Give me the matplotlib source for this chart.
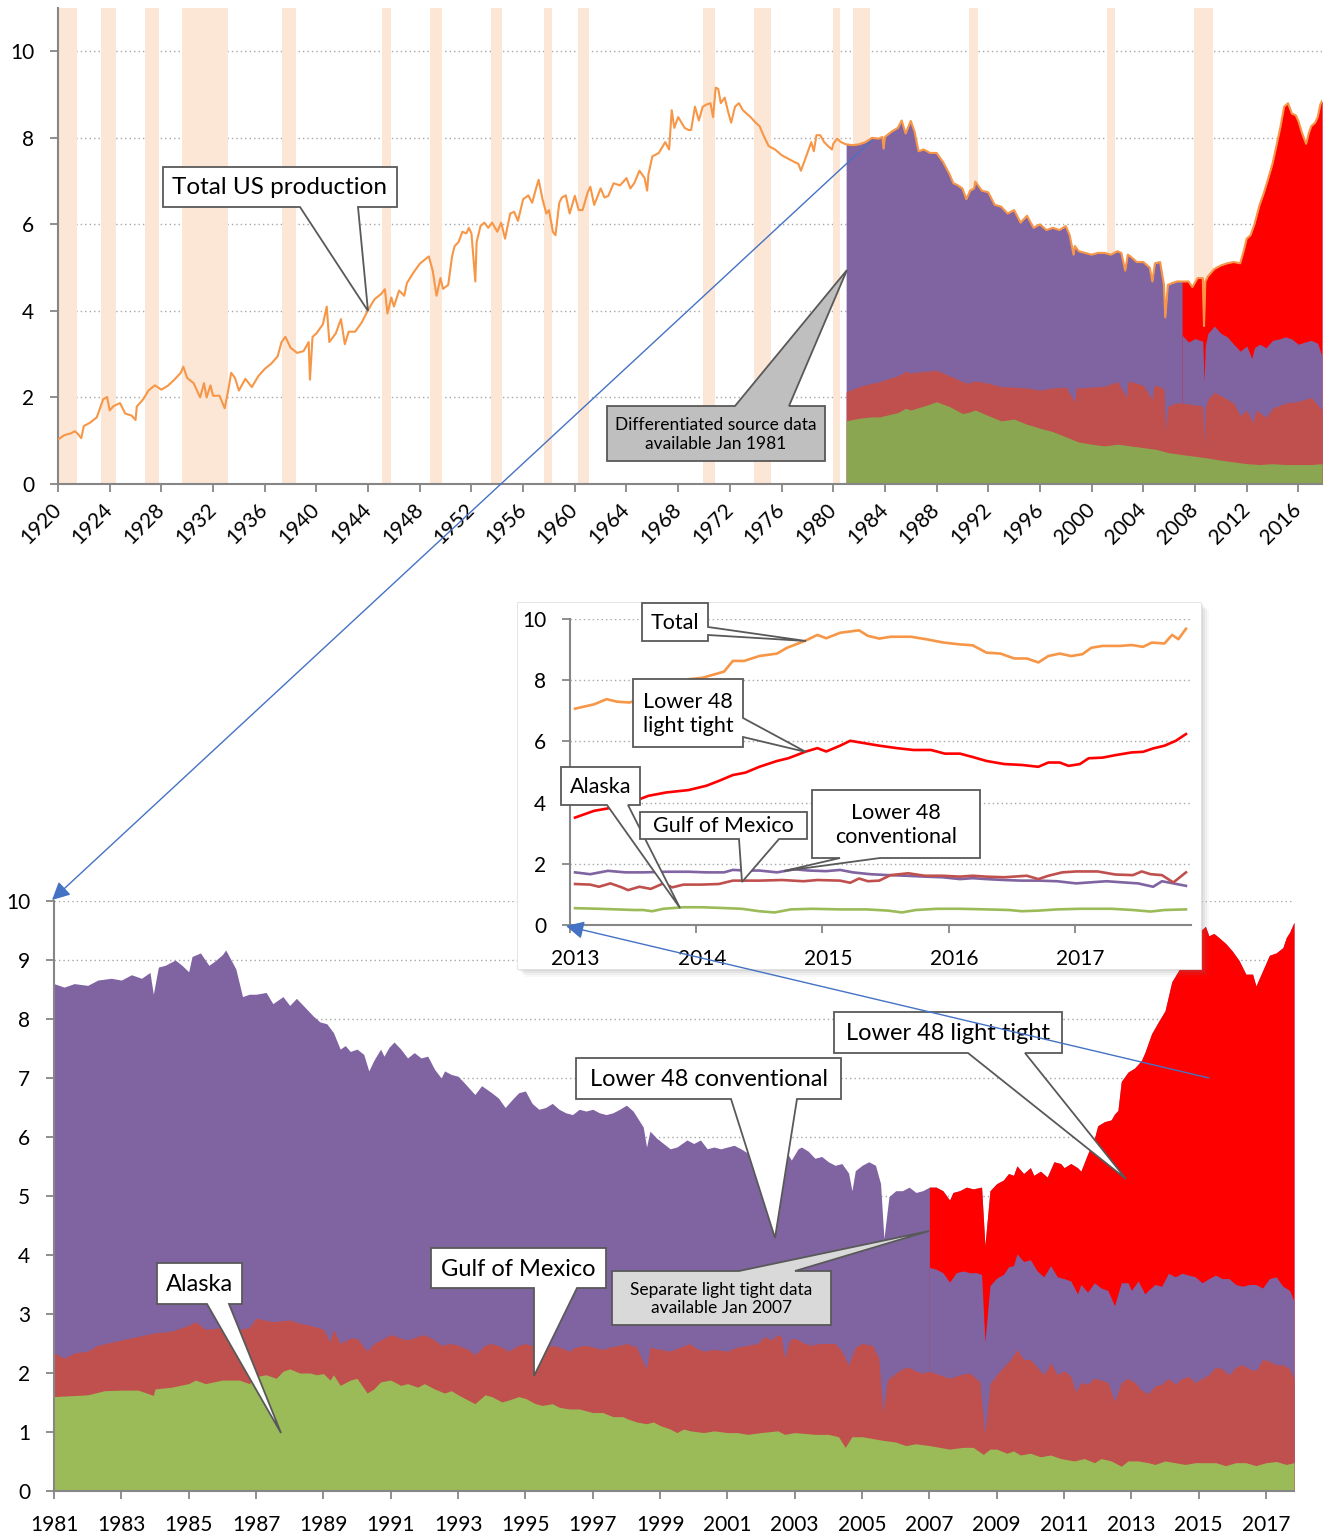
import numpy as np
import matplotlib
matplotlib.use('Agg')
import matplotlib.pyplot as plt
from matplotlib.patches import Polygon, Rectangle, FancyArrowPatch
import matplotlib.transforms as mtransforms

plt.rcParams['font.family'] = ['Lato', 'DejaVu Sans']

W, H = 1332, 1536

# ---------------- DATA ----------------
# NBER recessions (start, end) in decimal years
recession_start = [1920.0, 1923.33, 1926.75, 1929.58, 1937.33, 1945.08, 1948.83, 1953.5, 1957.58,
                   1960.25, 1969.92, 1973.83, 1980.0, 1981.5, 1990.5, 2001.17, 2007.92]
recession_end = [1921.5, 1924.5, 1927.83, 1933.17, 1938.42, 1945.75, 1949.75, 1954.33, 1958.25,
                 1961.08, 1970.83, 1975.17, 1980.5, 1982.83, 1991.17, 2001.83, 2009.42]

# Top chart: total US production (year, value)
top_total = [
    (1920.0, 1.03), (1920.5, 1.13), (1921.0, 1.17), (1921.3, 1.22), (1921.5, 1.17), (1921.8, 1.06),
    (1922.0, 1.34), (1922.5, 1.42), (1923.0, 1.54), (1923.5, 1.96), (1923.8, 2.01), (1924.0, 1.70),
    (1924.3, 1.80), (1924.8, 1.87), (1925.2, 1.63), (1925.7, 1.58), (1926.0, 1.48), (1926.1, 1.79),
    (1926.6, 1.96), (1927.0, 2.16), (1927.5, 2.28), (1928.0, 2.18), (1928.5, 2.27), (1929.0, 2.41),
    (1929.5, 2.57), (1929.7, 2.71), (1930.0, 2.45), (1930.5, 2.33), (1931.0, 2.00), (1931.3, 2.33),
    (1931.5, 2.00), (1931.8, 2.28), (1932.0, 2.04), (1932.5, 2.04), (1932.9, 1.75), (1933.2, 2.20),
    (1933.4, 2.57), (1933.7, 2.45), (1934.0, 2.16), (1934.5, 2.43), (1935.0, 2.24), (1935.5, 2.49),
    (1936.0, 2.66), (1936.5, 2.78), (1937.0, 2.95), (1937.3, 3.28), (1937.6, 3.40), (1938.0, 3.15),
    (1938.5, 3.03), (1939.0, 3.07), (1939.4, 3.28), (1939.5, 2.41), (1939.7, 3.40), (1940.0, 3.48),
    (1940.5, 3.69), (1940.8, 4.10), (1941.0, 3.28), (1941.5, 3.48), (1941.9, 3.81), (1942.2, 3.23),
    (1942.5, 3.52), (1943.0, 3.52), (1943.5, 3.73), (1944.0, 4.02), (1944.5, 4.27), (1945.0, 4.39),
    (1945.3, 4.50), (1945.5, 3.94), (1945.8, 4.31), (1946.0, 4.10), (1946.4, 4.47), (1946.8, 4.35),
    (1947.0, 4.64), (1947.5, 4.88), (1948.0, 5.09), (1948.7, 5.26), (1949.0, 4.93), (1949.3, 4.35),
    (1949.6, 4.76), (1949.8, 4.51), (1950.2, 4.60), (1950.5, 5.26), (1950.7, 5.50), (1951.0, 5.59),
    (1951.3, 5.83), (1951.6, 5.79), (1951.8, 5.92), (1952.0, 5.79), (1952.3, 4.68), (1952.4, 5.59),
    (1952.7, 5.96), (1953.0, 6.04), (1953.3, 5.92), (1953.6, 6.04), (1954.0, 5.83), (1954.3, 6.04),
    (1954.6, 5.67), (1955.0, 6.25), (1955.3, 6.29), (1955.6, 6.08), (1956.0, 6.58), (1956.4, 6.67),
    (1956.7, 6.50), (1957.0, 6.83), (1957.2, 7.03), (1957.5, 6.58), (1957.8, 6.25), (1958.0, 6.33),
    (1958.3, 5.83), (1958.5, 5.75), (1958.8, 6.50), (1959.0, 6.62), (1959.3, 6.67), (1959.6, 6.25),
    (1960.0, 6.66), (1960.3, 6.33), (1960.6, 6.33), (1961.0, 6.74), (1961.2, 6.87), (1961.5, 6.45),
    (1962.0, 6.83), (1962.3, 6.62), (1962.6, 6.66), (1963.0, 6.95), (1963.5, 6.90), (1964.0, 7.07),
    (1964.3, 6.83), (1964.6, 6.95), (1965.0, 7.24), (1965.4, 7.07), (1965.6, 6.78), (1965.7, 7.16),
    (1966.0, 7.57), (1966.5, 7.65), (1967.0, 7.90), (1967.3, 7.73), (1967.5, 8.64), (1967.7, 8.23),
    (1968.0, 8.48), (1968.5, 8.23), (1968.8, 8.18), (1969.0, 8.18), (1969.3, 8.72), (1969.6, 8.40),
    (1969.9, 8.72), (1970.2, 8.77), (1970.5, 8.80), (1970.7, 8.48), (1970.9, 9.16), (1971.1, 9.13),
    (1971.3, 8.80), (1971.6, 8.93), (1971.9, 8.56), (1972.1, 8.35), (1972.4, 8.72), (1972.7, 8.80),
    (1973.0, 8.64), (1973.3, 8.56), (1973.6, 8.48), (1974.0, 8.35), (1974.3, 8.27), (1974.6, 8.06),
    (1975.0, 7.81), (1975.5, 7.73), (1976.0, 7.60), (1976.5, 7.52), (1977.0, 7.44), (1977.3, 7.40),
    (1977.5, 7.24), (1977.8, 7.48), (1978.0, 7.65), (1978.3, 7.90), (1978.5, 7.69), (1978.7, 8.06),
    (1979.0, 8.06), (1979.3, 7.90), (1979.6, 7.81), (1979.9, 7.73), (1980.0, 7.86), (1980.3, 7.98),
    (1980.6, 7.90), (1980.9, 7.86), (1981.0, 7.85), (1981.5, 7.83), (1982.0, 7.85), (1982.5, 7.90),
    (1983.0, 8.00), (1983.5, 7.98), (1983.8, 8.02), (1983.9, 7.75), (1984.0, 8.02), (1984.5, 8.14),
    (1985.0, 8.23), (1985.3, 8.40), (1985.6, 8.10), (1986.0, 8.39), (1986.3, 8.14), (1986.6, 7.69),
    (1987.0, 7.73), (1987.5, 7.65), (1988.0, 7.65), (1988.5, 7.44), (1989.0, 7.16), (1989.3, 6.95),
    (1989.6, 6.91), (1990.0, 6.83), (1990.3, 6.58), (1990.6, 6.78), (1990.9, 6.83), (1991.0, 6.99),
    (1991.5, 6.78), (1992.0, 6.74), (1992.5, 6.45), (1993.0, 6.41), (1993.5, 6.25), (1994.0, 6.33),
    (1994.5, 6.04), (1995.0, 6.20), (1995.5, 5.92), (1996.0, 6.00), (1996.5, 5.87), (1997.0, 5.92),
    (1997.5, 5.87), (1998.0, 5.96), (1998.3, 5.75), (1998.6, 5.30), (1998.7, 5.50), (1999.0, 5.38),
    (1999.5, 5.34), (2000.0, 5.30), (2000.5, 5.34), (2001.0, 5.34), (2001.5, 5.30), (2002.0, 5.38),
    (2002.3, 5.34), (2002.6, 4.93), (2002.8, 5.30), (2003.0, 5.26), (2003.5, 5.13), (2004.0, 5.13),
    (2004.5, 5.00), (2004.7, 4.68), (2004.9, 5.10), (2005.3, 5.13), (2005.6, 4.60), (2005.7, 3.85),
    (2005.9, 4.60), (2006.2, 4.64), (2006.6, 4.68), (2007.0, 4.68), (2007.5, 4.68), (2007.8, 4.55),
    (2008.2, 4.76), (2008.6, 4.76), (2008.7, 3.65), (2008.8, 4.68), (2009.0, 4.80), (2009.5, 4.97),
    (2010.0, 5.05), (2010.5, 5.10), (2011.0, 5.13), (2011.5, 5.10), (2011.8, 5.42), (2012.0, 5.67),
    (2012.3, 5.75), (2012.6, 6.00), (2013.0, 6.45), (2013.3, 6.70), (2013.6, 6.99), (2014.0, 7.40),
    (2014.3, 7.81), (2014.6, 8.23), (2014.9, 8.72), (2015.2, 8.80), (2015.5, 8.56), (2015.8, 8.52),
    (2016.0, 8.39), (2016.3, 8.10), (2016.6, 7.86), (2016.8, 8.10), (2017.0, 8.27), (2017.3, 8.35),
    (2017.5, 8.48), (2017.7, 8.77), (2017.83, 8.85)]

# Top chart stacked layers (tops of cumulative layers)
top_alaska = [
    (1981.0, 1.46), (1982.0, 1.52), (1983.0, 1.55), (1983.6, 1.55), (1984.0, 1.58), (1985.0, 1.65),
    (1985.6, 1.75), (1986.0, 1.71), (1987.0, 1.80), (1988.0, 1.90), (1989.0, 1.79), (1990.0, 1.63),
    (1990.4, 1.65), (1991.0, 1.71), (1992.0, 1.58), (1993.0, 1.46), (1994.0, 1.50), (1995.0, 1.38),
    (1996.0, 1.29), (1997.0, 1.21), (1998.0, 1.09), (1999.0, 0.97), (2000.0, 0.92), (2001.0, 0.88),
    (2002.0, 0.92), (2003.0, 0.88), (2004.0, 0.84), (2005.0, 0.80), (2006.0, 0.72), (2007.0, 0.68),
    (2008.0, 0.64), (2009.0, 0.60), (2010.0, 0.55), (2011.0, 0.51), (2012.0, 0.47), (2013.0, 0.45),
    (2014.0, 0.47), (2015.0, 0.45), (2016.0, 0.45), (2017.0, 0.45), (2017.83, 0.47)]
top_alaska_gulf = [
    (1981.0, 2.13), (1982.0, 2.25), (1983.0, 2.33), (1983.6, 2.36), (1984.0, 2.41), (1985.0, 2.50),
    (1985.6, 2.60), (1986.0, 2.57), (1987.0, 2.60), (1988.0, 2.63), (1989.0, 2.50), (1990.0, 2.37),
    (1990.4, 2.33), (1991.0, 2.38), (1992.0, 2.33), (1993.0, 2.25), (1994.0, 2.24), (1995.0, 2.22),
    (1996.0, 2.17), (1997.0, 2.22), (1998.0, 2.24), (1998.7, 1.90), (1998.8, 2.22), (1999.0, 2.22),
    (2000.0, 2.24), (2001.0, 2.26), (2002.0, 2.37), (2002.7, 2.00), (2002.8, 2.35), (2003.0, 2.37),
    (2004.0, 2.28), (2004.7, 1.95), (2004.8, 2.25), (2005.0, 2.28), (2005.6, 2.20), (2005.7, 1.21),
    (2005.9, 1.80), (2006.5, 1.87), (2007.0, 1.87), (2008.0, 1.83), (2008.6, 1.80), (2008.7, 0.88),
    (2008.8, 1.75), (2009.0, 1.96), (2009.5, 2.12), (2010.0, 2.04), (2011.0, 1.87), (2011.5, 1.58),
    (2012.0, 1.71), (2012.5, 1.42), (2012.7, 1.70), (2013.0, 1.65), (2013.5, 1.54), (2014.0, 1.75),
    (2015.0, 1.87), (2016.0, 1.91), (2017.0, 2.00), (2017.83, 1.71)]
top_conventional_cum = [
    (2007.0, 3.44), (2007.5, 3.28), (2008.0, 3.36), (2008.6, 3.30), (2008.7, 2.37), (2008.8, 3.20),
    (2009.0, 3.48), (2009.5, 3.65), (2010.0, 3.48), (2010.5, 3.40), (2011.0, 3.23), (2011.5, 3.07),
    (2012.0, 3.19), (2012.4, 2.90), (2012.6, 3.15), (2013.0, 3.23), (2013.5, 3.15), (2014.0, 3.32),
    (2014.5, 3.35), (2015.0, 3.40), (2015.5, 3.35), (2016.0, 3.23), (2016.5, 3.28), (2017.0, 3.32),
    (2017.5, 3.25), (2017.83, 2.95)]

# Bottom chart: total (top of stack) 1981-2017
bottom_total = [
    (1981.0, 8.60), (1981.3, 8.54), (1981.6, 8.60), (1982.0, 8.57), (1982.3, 8.66), (1982.7, 8.69),
    (1983.0, 8.66), (1983.3, 8.75), (1983.6, 8.69), (1983.85, 8.79), (1983.95, 8.42), (1984.1, 8.88),
    (1984.3, 8.91), (1984.6, 9.00), (1984.8, 8.91), (1985.0, 8.80), (1985.1, 9.06), (1985.35, 9.12),
    (1985.6, 8.91), (1985.75, 8.97), (1986.0, 9.09), (1986.1, 9.17), (1986.4, 8.85), (1986.6, 8.38),
    (1986.8, 8.42), (1987.0, 8.42), (1987.3, 8.45), (1987.5, 8.26), (1987.8, 8.38), (1988.0, 8.23),
    (1988.2, 8.35), (1988.5, 8.17), (1988.7, 8.05), (1988.9, 7.95), (1989.1, 7.92), (1989.3, 7.77),
    (1989.5, 7.49), (1989.65, 7.55), (1989.8, 7.45), (1990.0, 7.49), (1990.2, 7.40), (1990.35, 7.12),
    (1990.5, 7.30), (1990.7, 7.49), (1990.8, 7.37), (1990.95, 7.52), (1991.1, 7.61), (1991.3, 7.49),
    (1991.5, 7.34), (1991.7, 7.43), (1991.9, 7.34), (1992.1, 7.37), (1992.3, 7.15), (1992.5, 7.00),
    (1992.6, 7.12), (1992.8, 7.06), (1993.0, 7.03), (1993.2, 6.91), (1993.5, 6.72), (1993.7, 6.87),
    (1994.0, 6.75), (1994.2, 6.66), (1994.4, 6.50), (1994.6, 6.63), (1994.8, 6.75), (1995.0, 6.78),
    (1995.2, 6.57), (1995.4, 6.47), (1995.6, 6.50), (1995.8, 6.57), (1996.0, 6.47), (1996.2, 6.41),
    (1996.4, 6.38), (1996.6, 6.47), (1996.8, 6.44), (1997.0, 6.47), (1997.2, 6.41), (1997.4, 6.38),
    (1997.6, 6.41), (1997.8, 6.47), (1998.0, 6.54), (1998.2, 6.44), (1998.4, 6.26), (1998.5, 6.17),
    (1998.6, 5.83), (1998.7, 6.10), (1998.9, 5.98), (1999.1, 5.89), (1999.3, 5.80), (1999.5, 5.83),
    (1999.8, 5.95), (2000.0, 5.89), (2000.2, 5.95), (2000.4, 5.80), (2000.6, 5.83), (2000.8, 5.80),
    (2001.0, 5.83), (2001.2, 5.86), (2001.4, 5.80), (2001.6, 5.73), (2001.8, 5.66), (2002.0, 5.70),
    (2002.4, 5.72), (2002.6, 5.30), (2002.75, 5.75), (2002.9, 5.61), (2003.1, 5.80), (2003.2, 5.83),
    (2003.4, 5.76), (2003.6, 5.64), (2003.8, 5.67), (2004.0, 5.58), (2004.2, 5.52), (2004.4, 5.55),
    (2004.6, 5.39), (2004.7, 5.09), (2004.8, 5.43), (2005.0, 5.52), (2005.2, 5.58), (2005.4, 5.52),
    (2005.55, 5.21), (2005.65, 4.28), (2005.8, 4.99), (2006.0, 5.09), (2006.2, 5.09), (2006.4, 5.15),
    (2006.6, 5.06), (2006.8, 5.09), (2007.0, 5.15), (2007.2, 5.15), (2007.4, 5.09), (2007.6, 4.93),
    (2007.7, 5.06), (2007.9, 5.09), (2008.1, 5.15), (2008.3, 5.12), (2008.55, 5.15), (2008.65, 4.16),
    (2008.8, 5.09), (2009.0, 5.21), (2009.2, 5.27), (2009.35, 5.38), (2009.5, 5.35), (2009.6, 5.51),
    (2009.8, 5.38), (2010.0, 5.48), (2010.1, 5.35), (2010.3, 5.42), (2010.5, 5.32), (2010.7, 5.58),
    (2010.9, 5.55), (2011.0, 5.48), (2011.2, 5.55), (2011.4, 5.48), (2011.5, 5.42), (2011.7, 5.71),
    (2011.9, 5.97), (2012.0, 6.19), (2012.2, 6.26), (2012.4, 6.29), (2012.5, 6.39), (2012.6, 6.45),
    (2012.7, 6.94), (2012.9, 7.10), (2013.1, 7.17), (2013.3, 7.30), (2013.4, 7.43), (2013.6, 7.75),
    (2013.8, 7.95), (2014.0, 8.14), (2014.2, 8.63), (2014.4, 8.82), (2014.6, 9.12), (2014.8, 9.31),
    (2015.0, 9.47), (2015.2, 9.57), (2015.3, 9.41), (2015.45, 9.45), (2015.6, 9.38), (2015.8, 9.28),
    (2016.0, 9.15), (2016.2, 8.99), (2016.4, 8.76), (2016.6, 8.76), (2016.7, 8.56), (2016.9, 8.82),
    (2017.1, 9.08), (2017.3, 9.12), (2017.5, 9.21), (2017.6, 9.38), (2017.7, 9.47), (2017.83, 9.64)]

# Bottom chart: Alaska + Gulf + Lower 48 conventional (top of purple once light tight starts)
bottom_conventional_cum = [
    (2007.0, 3.79), (2007.2, 3.76), (2007.4, 3.70), (2007.6, 3.54), (2007.8, 3.70), (2008.0, 3.73),
    (2008.2, 3.70), (2008.4, 3.70), (2008.55, 3.67), (2008.65, 2.53), (2008.8, 3.48), (2009.0, 3.61),
    (2009.2, 3.67), (2009.35, 3.80), (2009.5, 3.82), (2009.6, 4.02), (2009.8, 3.89), (2010.0, 3.92),
    (2010.2, 3.73), (2010.4, 3.63), (2010.6, 3.82), (2010.8, 3.63), (2011.0, 3.60), (2011.2, 3.56),
    (2011.4, 3.34), (2011.5, 3.50), (2011.7, 3.37), (2011.9, 3.53), (2012.1, 3.44), (2012.3, 3.40),
    (2012.5, 3.14), (2012.7, 3.53), (2012.9, 3.53), (2013.0, 3.40), (2013.2, 3.56), (2013.4, 3.34),
    (2013.5, 3.40), (2013.7, 3.50), (2013.9, 3.47), (2014.1, 3.69), (2014.3, 3.63), (2014.5, 3.69),
    (2014.7, 3.66), (2014.9, 3.63), (2015.1, 3.53), (2015.3, 3.60), (2015.5, 3.66), (2015.7, 3.60),
    (2015.9, 3.60), (2016.1, 3.50), (2016.3, 3.47), (2016.5, 3.50), (2016.7, 3.50), (2016.9, 3.44),
    (2017.1, 3.60), (2017.3, 3.63), (2017.5, 3.47), (2017.7, 3.40), (2017.83, 3.21)]

# Bottom chart: Alaska + Gulf of Mexico
bottom_alaska_gulf = [
    (1981.0, 2.34), (1981.3, 2.25), (1981.6, 2.34), (1982.0, 2.37), (1982.3, 2.47), (1983.0, 2.56),
    (1983.5, 2.62), (1984.0, 2.68), (1984.5, 2.71), (1985.0, 2.81), (1985.2, 2.87), (1985.5, 2.74),
    (1986.0, 2.77), (1986.5, 2.74), (1986.8, 2.77), (1987.0, 2.93), (1987.5, 2.87), (1988.0, 2.90),
    (1988.3, 2.84), (1988.6, 2.81), (1989.0, 2.74), (1989.2, 2.53), (1989.3, 2.74), (1989.5, 2.50),
    (1989.8, 2.59), (1990.0, 2.59), (1990.3, 2.37), (1990.5, 2.50), (1990.7, 2.56), (1991.0, 2.65),
    (1991.3, 2.59), (1991.5, 2.56), (1991.8, 2.62), (1992.0, 2.65), (1992.3, 2.56), (1992.5, 2.47),
    (1992.8, 2.50), (1993.0, 2.47), (1993.3, 2.40), (1993.5, 2.31), (1993.8, 2.47), (1994.0, 2.50),
    (1994.3, 2.44), (1994.5, 2.37), (1994.8, 2.47), (1995.0, 2.50), (1995.3, 2.44), (1995.5, 2.40),
    (1995.8, 2.47), (1996.0, 2.44), (1996.3, 2.37), (1996.5, 2.44), (1996.8, 2.47), (1997.0, 2.44),
    (1997.3, 2.40), (1997.5, 2.44), (1997.8, 2.47), (1998.0, 2.50), (1998.3, 2.44), (1998.6, 2.07),
    (1998.7, 2.44), (1999.0, 2.40), (1999.3, 2.37), (1999.6, 2.44), (1999.9, 2.50), (2000.0, 2.44),
    (2000.3, 2.37), (2000.6, 2.40), (2001.0, 2.37), (2001.3, 2.44), (2001.6, 2.47), (2001.9, 2.50),
    (2002.1, 2.62), (2002.3, 2.56), (2002.5, 2.65), (2002.6, 2.62), (2002.7, 2.25), (2002.85, 2.56),
    (2003.0, 2.59), (2003.3, 2.50), (2003.5, 2.47), (2003.7, 2.50), (2003.9, 2.50), (2004.2, 2.50),
    (2004.4, 2.37), (2004.6, 2.13), (2004.8, 2.44), (2005.0, 2.50), (2005.3, 2.47), (2005.5, 2.25),
    (2005.62, 1.33), (2005.75, 1.88), (2006.0, 2.00), (2006.2, 2.07), (2006.4, 2.10), (2006.6, 2.03),
    (2006.8, 2.00), (2007.0, 2.03), (2007.3, 1.97), (2007.6, 1.91), (2007.9, 1.97), (2008.2, 2.00),
    (2008.5, 1.85), (2008.65, 0.96), (2008.8, 1.82), (2009.0, 1.97), (2009.2, 2.10), (2009.4, 2.22),
    (2009.6, 2.40), (2009.8, 2.23), (2010.0, 2.23), (2010.2, 2.10), (2010.4, 1.97), (2010.6, 2.17),
    (2010.8, 1.97), (2011.0, 2.04), (2011.2, 1.94), (2011.35, 1.68), (2011.5, 1.84), (2011.7, 1.81),
    (2011.9, 1.91), (2012.1, 1.88), (2012.3, 1.84), (2012.5, 1.52), (2012.7, 1.84), (2012.9, 1.91),
    (2013.1, 1.84), (2013.3, 1.71), (2013.5, 1.65), (2013.7, 1.78), (2013.9, 1.81), (2014.1, 1.91),
    (2014.3, 1.81), (2014.5, 1.91), (2014.7, 1.94), (2014.9, 1.84), (2015.1, 1.91), (2015.3, 1.97),
    (2015.5, 2.10), (2015.7, 2.07), (2015.9, 1.97), (2016.1, 2.10), (2016.3, 2.14), (2016.5, 2.07),
    (2016.7, 2.04), (2016.9, 2.23), (2017.1, 2.20), (2017.3, 2.14), (2017.5, 2.14), (2017.7, 2.07),
    (2017.83, 1.91)]

# Bottom chart: Alaska
bottom_alaska = [
    (1981.0, 1.60), (1982.0, 1.63), (1982.5, 1.70), (1983.0, 1.71), (1983.5, 1.71), (1983.95, 1.62),
    (1984.0, 1.73), (1984.5, 1.76), (1985.0, 1.82), (1985.2, 1.88), (1985.5, 1.82), (1986.0, 1.88),
    (1986.5, 1.88), (1986.8, 1.82), (1987.0, 1.94), (1987.3, 1.97), (1987.6, 1.91), (1987.8, 2.03),
    (1988.0, 2.07), (1988.3, 2.00), (1988.6, 2.00), (1988.8, 1.97), (1989.0, 1.99), (1989.2, 1.88),
    (1989.3, 1.97), (1989.5, 1.79), (1989.8, 1.88), (1990.0, 1.91), (1990.3, 1.66), (1990.5, 1.73),
    (1990.7, 1.85), (1991.0, 1.88), (1991.3, 1.79), (1991.5, 1.82), (1991.8, 1.76), (1992.0, 1.82),
    (1992.3, 1.73), (1992.6, 1.66), (1992.8, 1.70), (1993.0, 1.63), (1993.3, 1.54), (1993.5, 1.48),
    (1993.8, 1.63), (1994.0, 1.60), (1994.3, 1.51), (1994.5, 1.54), (1994.8, 1.60), (1995.0, 1.57),
    (1995.3, 1.48), (1995.5, 1.45), (1995.8, 1.48), (1996.0, 1.42), (1996.3, 1.39), (1996.6, 1.39),
    (1996.8, 1.36), (1997.0, 1.33), (1997.3, 1.33), (1997.6, 1.26), (1997.9, 1.26), (1998.0, 1.23),
    (1998.3, 1.17), (1998.6, 1.14), (1998.8, 1.17), (1999.0, 1.11), (1999.3, 1.05), (1999.5, 0.99),
    (1999.7, 1.05), (1999.9, 1.02), (2000.3, 0.99), (2000.6, 1.02), (2001.0, 0.99), (2001.3, 0.99),
    (2001.6, 0.96), (2002.0, 0.99), (2002.5, 1.02), (2002.7, 0.96), (2003.0, 0.99), (2003.6, 0.96),
    (2004.0, 0.96), (2004.3, 0.92), (2004.5, 0.74), (2004.7, 0.92), (2005.0, 0.92), (2005.3, 0.89),
    (2005.6, 0.86), (2006.0, 0.83), (2006.3, 0.77), (2006.6, 0.80), (2007.0, 0.77), (2007.3, 0.74),
    (2007.6, 0.71), (2008.0, 0.74), (2008.3, 0.74), (2008.6, 0.62), (2008.8, 0.71), (2009.0, 0.71),
    (2009.3, 0.64), (2009.5, 0.68), (2009.7, 0.61), (2010.0, 0.64), (2010.3, 0.58), (2010.6, 0.61),
    (2010.9, 0.55), (2011.3, 0.51), (2011.6, 0.55), (2011.9, 0.48), (2012.1, 0.55), (2012.4, 0.51),
    (2012.7, 0.42), (2012.9, 0.51), (2013.2, 0.51), (2013.5, 0.48), (2013.7, 0.45), (2014.0, 0.51),
    (2014.3, 0.48), (2014.6, 0.45), (2014.9, 0.48), (2015.2, 0.48), (2015.5, 0.48), (2015.8, 0.43),
    (2016.1, 0.48), (2016.4, 0.48), (2016.7, 0.43), (2017.0, 0.48), (2017.3, 0.50), (2017.6, 0.45),
    (2017.83, 0.48)]

# Inset (2013-2017) series
inset_total = [
    (2013.04, 7.07), (2013.19, 7.21), (2013.29, 7.38), (2013.37, 7.30), (2013.47, 7.27), (2013.65, 7.50),
    (2013.80, 7.80), (2013.94, 8.03), (2014.05, 8.08), (2014.22, 8.28), (2014.29, 8.63), (2014.38, 8.63),
    (2014.50, 8.79), (2014.64, 8.87), (2014.72, 9.06), (2014.87, 9.30), (2014.96, 9.48), (2015.03, 9.37),
    (2015.14, 9.55), (2015.29, 9.63), (2015.36, 9.45), (2015.45, 9.36), (2015.54, 9.42), (2015.70, 9.42),
    (2015.82, 9.34), (2015.96, 9.23), (2016.09, 9.17), (2016.19, 9.14), (2016.30, 8.90), (2016.41, 8.87),
    (2016.52, 8.71), (2016.62, 8.71), (2016.71, 8.58), (2016.79, 8.79), (2016.88, 8.87), (2016.97, 8.79),
    (2017.06, 8.85), (2017.13, 9.06), (2017.22, 9.12), (2017.36, 9.12), (2017.45, 9.15), (2017.54, 9.09),
    (2017.61, 9.23), (2017.71, 9.20), (2017.77, 9.48), (2017.82, 9.34), (2017.88, 9.68)]
inset_light_tight = [
    (2013.04, 3.51), (2013.19, 3.73), (2013.34, 3.84), (2013.48, 4.00), (2013.62, 4.22), (2013.76, 4.33),
    (2013.94, 4.41), (2014.08, 4.55), (2014.18, 4.71), (2014.29, 4.90), (2014.39, 4.98), (2014.50, 5.17),
    (2014.64, 5.36), (2014.73, 5.45), (2014.87, 5.67), (2014.96, 5.78), (2015.03, 5.67), (2015.14, 5.86),
    (2015.22, 6.02), (2015.35, 5.93), (2015.45, 5.86), (2015.59, 5.78), (2015.72, 5.72), (2015.86, 5.72),
    (2015.97, 5.60), (2016.09, 5.60), (2016.19, 5.49), (2016.30, 5.36), (2016.44, 5.26), (2016.58, 5.23),
    (2016.71, 5.17), (2016.79, 5.31), (2016.88, 5.31), (2016.95, 5.20), (2017.04, 5.26), (2017.11, 5.45),
    (2017.22, 5.47), (2017.32, 5.55), (2017.45, 5.64), (2017.54, 5.66), (2017.62, 5.77), (2017.71, 5.86),
    (2017.80, 6.02), (2017.88, 6.24)]
inset_conventional = [
    (2013.04, 1.72), (2013.16, 1.66), (2013.30, 1.77), (2013.44, 1.72), (2013.58, 1.72), (2013.76, 1.74),
    (2013.94, 1.74), (2014.08, 1.72), (2014.22, 1.72), (2014.29, 1.80), (2014.39, 1.78), (2014.50, 1.78),
    (2014.64, 1.72), (2014.78, 1.82), (2014.89, 1.78), (2015.03, 1.76), (2015.14, 1.80), (2015.24, 1.72),
    (2015.38, 1.66), (2015.52, 1.63), (2015.66, 1.61), (2015.81, 1.58), (2015.95, 1.56), (2016.09, 1.50),
    (2016.19, 1.53), (2016.30, 1.50), (2016.44, 1.47), (2016.58, 1.45), (2016.71, 1.45), (2016.86, 1.43),
    (2017.01, 1.36), (2017.11, 1.39), (2017.25, 1.43), (2017.39, 1.39), (2017.50, 1.36), (2017.62, 1.25),
    (2017.69, 1.43), (2017.78, 1.36), (2017.88, 1.28)]
inset_gulf = [
    (2013.04, 1.34), (2013.16, 1.32), (2013.23, 1.25), (2013.32, 1.36), (2013.41, 1.23), (2013.46, 1.14),
    (2013.55, 1.25), (2013.64, 1.18), (2013.74, 1.36), (2013.81, 1.23), (2013.90, 1.32), (2014.04, 1.32),
    (2014.18, 1.34), (2014.29, 1.45), (2014.50, 1.45), (2014.68, 1.47), (2014.85, 1.43), (2014.96, 1.47),
    (2015.14, 1.45), (2015.22, 1.38), (2015.29, 1.52), (2015.36, 1.43), (2015.45, 1.45), (2015.54, 1.63),
    (2015.68, 1.69), (2015.81, 1.61), (2015.95, 1.61), (2016.09, 1.58), (2016.19, 1.61), (2016.30, 1.58),
    (2016.44, 1.56), (2016.62, 1.61), (2016.71, 1.50), (2016.79, 1.61), (2016.90, 1.72), (2017.01, 1.75),
    (2017.18, 1.75), (2017.32, 1.65), (2017.46, 1.63), (2017.53, 1.75), (2017.60, 1.66), (2017.69, 1.63),
    (2017.78, 1.39), (2017.88, 1.72)]
inset_alaska = [
    (2013.04, 0.55), (2013.23, 0.53), (2013.37, 0.51), (2013.51, 0.49), (2013.58, 0.49), (2013.65, 0.45),
    (2013.74, 0.53), (2013.90, 0.58), (2014.04, 0.58), (2014.18, 0.56), (2014.36, 0.53), (2014.50, 0.45),
    (2014.62, 0.41), (2014.75, 0.51), (2014.92, 0.53), (2015.14, 0.51), (2015.35, 0.51), (2015.52, 0.47),
    (2015.63, 0.41), (2015.74, 0.49), (2015.91, 0.53), (2016.09, 0.53), (2016.30, 0.51), (2016.48, 0.49),
    (2016.58, 0.45), (2016.71, 0.47), (2016.86, 0.51), (2017.04, 0.53), (2017.29, 0.53), (2017.46, 0.49),
    (2017.60, 0.44), (2017.71, 0.49), (2017.88, 0.51)]

# ---------------- STYLE ----------------
ORANGE = '#F79646'
PURPLE = '#8064A2'
BRICK = '#C0504D'
GREEN = '#9BBB59'
GREEN_TOP = '#8BA650'
TIGHT = '#FF0000'
RECESS = '#FCE6D6'
AXIS_C = '#868686'
GRID_C = '#A6A6A6'
EDGE_C = '#595959'
ARROW_C = '#4472C4'


def arr(pairs):
    a = np.array(pairs, dtype=float)
    return a[:, 0], a[:, 1]


def P(x, y):
    return (x / W, 1 - y / H)


def style_axis(ax, fs=15):
    for s in ['top', 'right']:
        ax.spines[s].set_visible(False)
    for s in ['left', 'bottom']:
        ax.spines[s].set_color(AXIS_C)
        ax.spines[s].set_linewidth(1.5)
    ax.yaxis.grid(True, color=GRID_C, linestyle=(0, (1, 2.2)), linewidth=1.0, zorder=0.5)
    ax.set_axisbelow(True)
    ax.tick_params(axis='both', colors=AXIS_C, labelcolor='black', labelsize=fs, length=6, width=1.3,
                   direction='out')


fig = plt.figure(figsize=(W / 100, H / 100), dpi=100)

# ---------------- TOP CHART ----------------
ax1 = fig.add_axes([58 / W, 1 - 484 / H, (1322 - 58) / W, (484 - 8) / H])
style_axis(ax1)
for s, e in zip(recession_start, recession_end):
    ax1.axvspan(s, e, color=RECESS, lw=0, zorder=0.8)

tx, tv = arr(top_total)
m81 = tx >= 1981.0
ax1.fill_between(tx[m81], 0, tv[m81], color=PURPLE, lw=0, zorder=2)
m07 = tx >= 2007.0
ax1.fill_between(tx[m07], 0, tv[m07], color=TIGHT, lw=0, zorder=2.1)
x, v = arr(top_conventional_cum)
ax1.fill_between(x, 0, v, color=PURPLE, lw=0, zorder=2.2)
x, v = arr(top_alaska_gulf)
ax1.fill_between(x, 0, v, color=BRICK, lw=0, zorder=2.3)
x, v = arr(top_alaska)
ax1.fill_between(x, 0, v, color=GREEN_TOP, lw=0, zorder=2.4)
ax1.plot(tx, tv, color=ORANGE, lw=1.5, zorder=3, solid_joinstyle='round')

ax1.set_xlim(1920, 2017.83)
ax1.set_ylim(0, 11)
ax1.set_yticks(range(0, 11, 2))
ax1.set_xticks(range(1920, 2017, 4))
ax1.set_xticklabels([str(y) for y in range(1920, 2017, 4)], rotation=45, ha='right', va='center',
                    rotation_mode='anchor')
ax1.tick_params(axis='x', pad=10)
ax1.tick_params(axis='y', pad=11)

# ---------------- BOTTOM CHART ----------------
ax2 = fig.add_axes([54 / W, 1 - 1491 / H, (1294 - 54) / W, (1491 - 901) / H])
style_axis(ax2)
bx, bv = arr(bottom_total)
ax2.fill_between(bx, 0, bv, color=PURPLE, lw=0, zorder=2)
mb = bx >= 2007.0
ax2.fill_between(bx[mb], 0, bv[mb], color=TIGHT, lw=0, zorder=2.1)
x, v = arr(bottom_conventional_cum)
ax2.fill_between(x, 0, v, color=PURPLE, lw=0, zorder=2.2)
x, v = arr(bottom_alaska_gulf)
ax2.fill_between(x, 0, v, color=BRICK, lw=0, zorder=2.3)
x, v = arr(bottom_alaska)
ax2.fill_between(x, 0, v, color=GREEN, lw=0, zorder=2.4)
ax2.set_xlim(1981, 2017.83)
ax2.set_ylim(0, 10)
ax2.set_yticks(range(0, 11))
ax2.set_xticks(range(1981, 2018, 2))
ax2.tick_params(axis='x', pad=11)
ax2.tick_params(axis='y', pad=11)

# ---------------- INSET ----------------
bx0, by0, bx1, by1 = 517, 602, 1201, 969
for d, a in [(8, 0.05), (6, 0.07), (4, 0.09), (2, 0.12)]:
    fig.add_artist(Rectangle(P(bx0 + d, by1 + d), (bx1 - bx0) / W, (by1 - by0) / H,
                             transform=fig.transFigure, fc='#7F7F7F', ec='none', alpha=a, zorder=1))
fig.add_artist(Rectangle(P(bx0, by1), (bx1 - bx0) / W, (by1 - by0) / H, transform=fig.transFigure,
                         fc='white', ec='#E0E0E0', lw=0.6, zorder=1.05))

ax3 = fig.add_axes([570 / W, 1 - 925 / H, (1191 - 570) / W, (925 - 619) / H])
ax3.set_zorder(2)
ax3.patch.set_alpha(0)
style_axis(ax3)
for data, col in [(inset_total, ORANGE), (inset_light_tight, TIGHT), (inset_conventional, PURPLE),
                  (inset_gulf, BRICK), (inset_alaska, GREEN)]:
    x, v = arr(data)
    ax3.plot(x, v, color=col, lw=1.9, zorder=3)
ax3.set_xlim(2013, 2017.92)
ax3.set_ylim(0, 10)
ax3.set_yticks(range(0, 11, 2))
ax3.set_xticks(range(2013, 2018))
ax3.tick_params(axis='x', pad=11)
ax3.tick_params(axis='y', pad=11)
off = mtransforms.ScaledTranslation(4 / 72, 0, fig.dpi_scale_trans)
for lab in ax3.get_xticklabels():
    lab.set_transform(lab.get_transform() + off)


# ---------------- CALLOUTS ----------------
def callout(box, side, base, tip, text, fc='white', fs=17, z=6):
    x0, y0, x1, y1 = box
    b0, b1 = base
    tx_, ty_ = tip
    pts = [(x0, y0)]
    if side == 'top':
        pts += [(b0, y0), (tx_, ty_), (b1, y0)]
    pts.append((x1, y0))
    if side == 'right':
        pts += [(x1, b0), (tx_, ty_), (x1, b1)]
    pts.append((x1, y1))
    if side == 'bottom':
        pts += [(b1, y1), (tx_, ty_), (b0, y1)]
    pts.append((x0, y1))
    if side == 'left':
        pts += [(x0, b1), (tx_, ty_), (x0, b0)]
    poly = Polygon([P(*p) for p in pts], closed=True, transform=fig.transFigure, fc=fc, ec=EDGE_C,
                   lw=1.3, zorder=z, joinstyle='miter')
    fig.add_artist(poly)
    fig.text(*P((x0 + x1) / 2, (y0 + y1) / 2 + 1), text, ha='center', va='center', fontsize=fs,
             zorder=z + 0.1, linespacing=1.2, color='black')


# top chart
callout((163, 167, 397, 207), 'bottom', (300, 358), (368, 311), 'Total US production', fs=17.5)
callout((607, 406, 825, 461), 'top', (735, 789), (847, 270),
        'Differentiated source data\navailable Jan 1981', fc='#BFBFBF', fs=12.5)
# inset
callout((642, 603, 708, 641), 'right', (627, 635), (806, 641), 'Total', fs=15.5)
callout((633, 679, 743, 747), 'right', (718, 737), (806, 752), 'Lower 48\nlight tight', fs=15.5)
callout((561, 767, 640, 805), 'bottom', (607, 628), (680, 908), 'Alaska', fs=15.5)
callout((640, 812, 807, 839), 'bottom', (739, 779), (742, 882), 'Gulf of Mexico', fs=15.5)
callout((812, 790, 980, 858), 'bottom', (840, 880), (784, 871), 'Lower 48\nconventional', fs=15.5)
# bottom chart
callout((834, 1012, 1062, 1053), 'bottom', (968, 1025), (1126, 1179), 'Lower 48 light tight', fs=17)
callout((576, 1058, 841, 1099), 'bottom', (731, 797), (775, 1238), 'Lower 48 conventional', fs=17)
callout((431, 1248, 606, 1288), 'bottom', (534, 577), (534, 1376), 'Gulf of Mexico', fs=17)
callout((157, 1263, 242, 1304), 'bottom', (207, 229), (281, 1433), 'Alaska', fs=17)
callout((612, 1271, 831, 1325), 'top', (739, 795), (929, 1231),
        'Separate light tight data\navailable Jan 2007', fc='#D9D9D9', fs=12.5)

# ---------------- CONNECTOR ARROWS ----------------
for start, end in [((871, 141), (52, 900)), ((1209, 1078), (566, 926))]:
    fig.add_artist(FancyArrowPatch(P(*start), P(*end), transform=fig.transFigure,
                                   arrowstyle='-|>,head_length=0.9,head_width=0.45', mutation_scale=12,
                                   color=ARROW_C, lw=1.0, shrinkA=0, shrinkB=0, zorder=8))

fig.savefig('out.png', dpi=100)
